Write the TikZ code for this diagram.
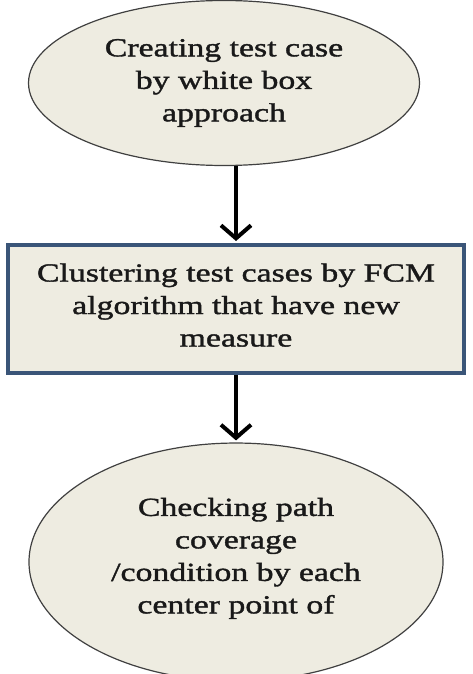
\documentclass[tikz,border=0pt]{standalone}
\usepackage{fontspec}
\setmainfont{Liberation Serif}[FakeStretch=1.3,FakeBold=1.4]
\usetikzlibrary{shapes.geometric,arrows.meta,positioning}
\definecolor{stepfill}{HTML}{EEECE1}
\definecolor{boxline}{HTML}{3A5578}
\tikzset{
	flowtext/.style={font=\fontsize{26}{32.5}\selectfont, align=center, inner sep=0pt, text=black!90},
	oval/.style={flowtext, ellipse, draw=black!75, line width=1.2pt, fill=stepfill},
	procbox/.style={flowtext, rectangle, draw=boxline, line width=4pt, fill=stepfill},
	flowarrow/.style={line width=4pt, -{Straight Barb[length=13pt,width=30pt]}, shorten >=2pt}
}

\begin{document}
\begin{tikzpicture}[x=1pt, y=-1pt]
		%%%%% START %%%%%
		\useasboundingbox (0, 0) rectangle (473, 674);
		
		\node[oval, minimum width=391, minimum height=165] (create) at (224, 83)
			{Creating test case\\by white box\\approach};
		
		\node[procbox, minimum width=456, minimum height=128] (cluster) at (236, 309)
			{Clustering test cases by FCM\\algorithm that have new\\measure\rule[-8pt]{0pt}{0pt}};
		
		\node[oval, minimum width=414, minimum height=219] (check) at (236, 562)
			{\rule{0pt}{38pt}Checking path\\coverage\\/condition by each\\center point of\\\phantom{cluster}};
		
		\draw[flowarrow] (cluster.north |- create.south) -- (cluster.north);
		\draw[flowarrow] (cluster.south) -- (check.north);
		
		%%%%% END %%%%%
\end{tikzpicture}
\end{document}
